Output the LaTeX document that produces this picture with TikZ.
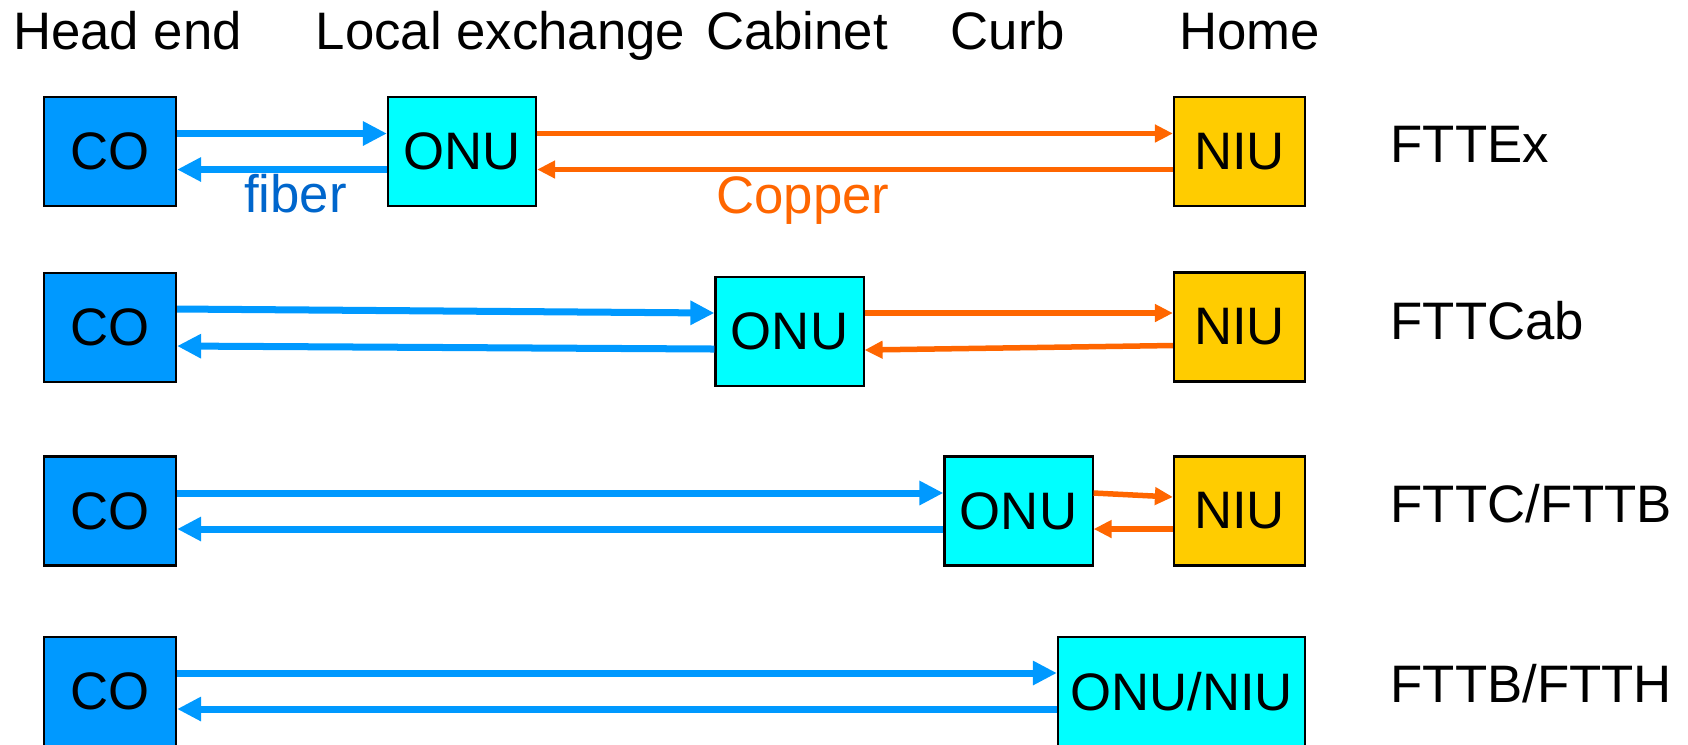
\documentclass[tikz,border=0pt]{standalone}
\usepackage{fontspec}
\setmainfont{Liberation Sans}
\usetikzlibrary{arrows.meta,calc}

\definecolor{coblue}{HTML}{0099FF}
\definecolor{onucyan}{HTML}{00FFFF}
\definecolor{niugold}{HTML}{FFCC00}
\definecolor{copperor}{HTML}{FF6600}
\definecolor{fibertext}{HTML}{0066CC}

\tikzset{
  txt/.style={font=\fontsize{15}{18}\selectfont, inner sep=0pt},
  unit/.style={txt, draw=black, line width=0.6pt, minimum height=1.09cm, text=black},
  cobox/.style={unit, fill=coblue, minimum width=1.32cm},
  onubox/.style={unit, fill=onucyan, minimum width=1.48cm},
  niubox/.style={unit, fill=niugold, minimum width=1.31cm},
  fiberlink/.style={draw=coblue, line width=0.07cm, -{Triangle[length=0.24cm,width=0.23cm]}},
  copperlink/.style={draw=copperor, line width=0.055cm, -{Triangle[length=0.18cm,width=0.17cm]}},
  header/.style={txt, anchor=base},
  scheme/.style={txt, anchor=base west},
}

\begin{document}
\begin{tikzpicture}[x=0.01cm, y=-0.01cm]
\useasboundingbox (0,0) rectangle (1688,744);
\clip (0,0) rectangle (1688,744);

% column headings
\node[header] (hhead)  at (127.5,49) {Head end};
\node[header] (hlocal) at (500.5,49) {Local exchange};
\node[header] (hcab)   at (797,49)   {Cabinet};
\node[header] (hcurb)  at (1008,49)  {Curb};
\node[header] (hhome)  at (1249.5,49) {Home};

% FTTEx
\node[cobox]  (co1)  at (110,151.5)   {CO};
\node[onubox] (onu1) at (462,151.5)   {ONU};
\node[niubox] (niu1) at (1239.5,151.5) {NIU};
\draw[fiberlink]  ($(co1.east)+(0,-18)$)  -- ($(onu1.west)+(0,-18)$);
\draw[fiberlink]  ($(onu1.west)+(0,18)$)  -- ($(co1.east)+(0,18)$);
\draw[copperlink] ($(onu1.east)+(0,-18)$) -- ($(niu1.west)+(0,-18)$);
\draw[copperlink] ($(niu1.west)+(0,18)$)  -- ($(onu1.east)+(0,18)$);
\node[txt, text=fibertext, anchor=base] (fiberlbl)  at (295.5,212) {fiber};
\node[txt, text=copperor,  anchor=base] (copperlbl) at (803,213)   {Copper};
\node[scheme] (lex) at (1390,162) {FTTEx};

% FTTCab
\node[cobox]  (co2)  at (110,327.5)   {CO};
\node[onubox] (onu2) at (789.5,331.5) {ONU};
\node[niubox] (niu2) at (1239.5,327)  {NIU};
\draw[fiberlink]  ($(co2.east)+(0,-18.5)$)  -- ($(onu2.west)+(0,-18.5)$);
\draw[fiberlink]  ($(onu2.west)+(0,17.5)$)  -- ($(co2.east)+(0,18.5)$);
\draw[copperlink] ($(onu2.east)+(0,-18.5)$) -- ($(niu2.west)+(0,-14)$);
\draw[copperlink] ($(niu2.west)+(0,18.5)$)  -- ($(onu2.east)+(0,18.5)$);
\node[scheme] (lcab) at (1390,339) {FTTCab};

% FTTC/FTTB
\node[cobox]  (co3)  at (110,511)    {CO};
\node[onubox] (onu3) at (1018.5,511) {ONU};
\node[niubox] (niu3) at (1239.5,511) {NIU};
\draw[fiberlink]  ($(co3.east)+(0,-18)$)  -- ($(onu3.west)+(0,-18)$);
\draw[fiberlink]  ($(onu3.west)+(0,18)$)  -- ($(co3.east)+(0,18)$);
\draw[copperlink] ($(onu3.east)+(0,-18)$) -- ($(niu3.west)+(0,-14)$);
\draw[copperlink] ($(niu3.west)+(0,18)$)  -- ($(onu3.east)+(0,18)$);
\node[scheme] (lcurb) at (1390,522) {FTTC/FTTB};

% FTTB/FTTH
\node[cobox]  (co4)    at (110,691.5) {CO};
\node[onubox, minimum width=2.47cm] (onuniu) at (1181.5,691.5) {ONU/NIU};
\draw[fiberlink] ($(co4.east)+(0,-18.5)$)  -- ($(onuniu.west)+(0,-18.5)$);
\draw[fiberlink] ($(onuniu.west)+(0,17.5)$) -- ($(co4.east)+(0,17.5)$);
\node[scheme] (lhome) at (1390,702) {FTTB/FTTH};
\end{tikzpicture}
\end{document}
